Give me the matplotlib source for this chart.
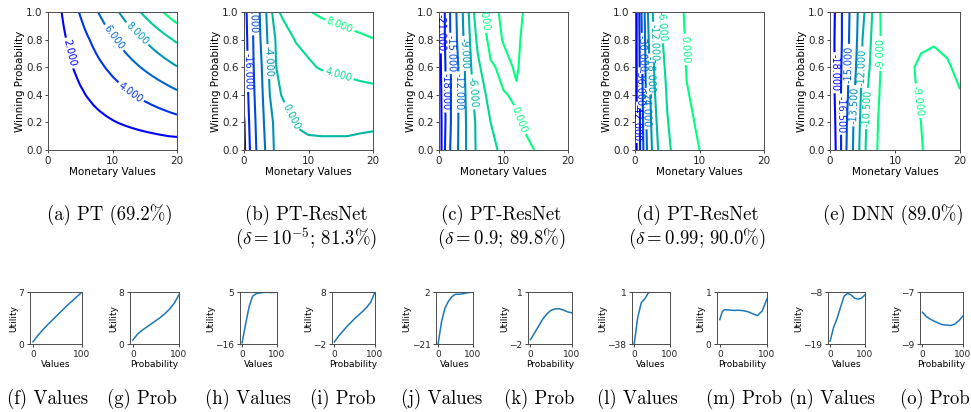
import matplotlib
matplotlib.use('Agg')
import matplotlib.pyplot as plt
import numpy as np

plt.rcParams['mathtext.fontset'] = 'cm'

W, H = 971, 412

# ---- PT surface: value function times probability weighting ----
pt_money = list(range(21))
pt_value = [0, 1.07, 1.92, 2.70, 3.44, 4.14, 4.83, 5.50, 6.15, 6.78, 7.41,
            8.02, 8.63, 9.22, 9.81, 10.39, 10.96, 11.53, 12.09, 12.65, 13.20]
pt_prob = [0, 0.1, 0.2, 0.3, 0.4, 0.5, 0.6, 0.7, 0.8, 0.9, 1.0]
pt_weight = [0, 0.16, 0.255, 0.34, 0.425, 0.51, 0.60, 0.69, 0.78, 0.89, 1.0]
pt_levels = [2, 4, 6, 8, 10, 12]

# ---- learned surfaces on a coarse (money, probability) grid ----
money = [0, 0.5, 1, 1.5, 2, 3, 4, 5, 6, 8, 10, 12, 14, 16, 18, 20]
prob = [0, 0.2, 0.4, 0.6, 0.8, 1.0]

# PT-ResNet, delta = 1e-5 (rows follow prob)
resnet_a = [
    [-21.0, -18.1, -15.6, -13.4, -11.7, -8.9, -5.7, -3.0, -2.0, -1.0, -0.6, -0.6, -0.6, -0.7, -1.2, -2.1],
    [-20.5, -17.3, -15.1, -12.8, -11.4, -8.3, -5.0, -3.0, -1.8, 0.2, 0.5, 0.6, 0.6, 0.7, 0.8, 1.0],
    [-18.5, -16.6, -14.7, -12.4, -10.9, -7.7, -4.0, -0.9, 0.3, 0.9, 1.4, 1.8, 2.2, 2.5, 2.8, 3.0],
    [-18.0, -16.3, -14.2, -12.0, -10.5, -7.2, -3.3, 0.0, 0.7, 2.2, 3.6, 4.24, 4.55, 4.87, 5.2, 5.5],
    [-18.0, -16.0, -13.8, -11.7, -10.0, -6.4, -2.5, 0.4, 1.9, 4.2, 4.8, 5.4, 6.0, 6.6, 7.2, 7.85],
    [-18.0, -15.5, -13.3, -11.3, -9.7, -5.8, -1.8, 3.3, 4.7, 6.3, 7.8, 8.7, 9.4, 10.0, 10.5, 11.0],
]
levels_a = [-20, -16, -12, -8, -4, 0, 4, 8]

# PT-ResNet, delta = 0.9
resnet_b = [
    [-24.0, -20.2, -17.6, -15.7, -14.2, -11.9, -9.5, -7.0, -5.5, -3.7, -2.4, -1.3, -0.3, 0.5, 0.9, 1.2],
    [-23.5, -20.3, -18.0, -16.1, -14.5, -12.0, -9.5, -6.8, -5.5, -3.0, -1.6, -0.2, 0.6, 1.0, 1.2, 1.4],
    [-23.0, -20.2, -18.0, -16.1, -14.5, -12.0, -9.3, -6.5, -4.7, -2.0, -0.1, 0.2, 1.3, 1.6, 1.8, 2.0],
    [-22.5, -20.0, -18.0, -16.1, -14.5, -12.0, -9.0, -6.0, -3.7, -0.3, 0.5, -0.2, 1.0, 1.4, 1.6, 1.8],
    [-22.2, -19.8, -17.6, -15.8, -14.2, -11.4, -8.4, -5.4, -2.3, 0.8, -0.1, -0.4, 0.9, 1.2, 1.4, 1.6],
    [-22.0, -19.5, -17.6, -15.7, -14.1, -11.1, -8.0, -4.7, -0.6, 1.0, -0.6, -0.6, 0.6, 1.0, 1.3, 1.5],
]
levels_b = [-21, -18, -15, -12, -9, -6, -3, 0]

# PT-ResNet, delta = 0.99 (three probability rows are enough)
prob_c = [0, 0.5, 1.0]
resnet_c = [
    [-45, -39.3, -33.6, -27.6, -22.5, -15.3, -9.7, -7.0, -5.2, -2.4, 0.0, 0.8, 1.2, 1.5, 1.7, 1.9],
    [-45, -39.2, -32.3, -25.4, -20.8, -12.0, -8.3, -5.2, -3.8, 0.0, 0.8, 1.2, 1.5, 1.8, 2.0, 2.2],
    [-45, -39.0, -30.0, -24.0, -18.0, -10.3, -6.0, -4.0, -2.0, 0.6, 1.2, 1.6, 1.9, 2.1, 2.3, 2.5],
]
levels_c = [-42, -36, -30, -24, -18, -12, -6, 0]

# DNN
dnn = [
    [-19, -18.6, -17.8, -17.0, -15.8, -14.3, -12.8, -11.2, -9.7, -8.6, -8.5, -8.7, -8.95, -9.3, -9.3, -9.3],
    [-19, -18.5, -17.7, -16.9, -15.9, -14.4, -12.9, -11.4, -9.9, -8.6, -8.5, -8.7, -9.0, -9.3, -9.3, -9.2],
    [-19, -18.3, -17.6, -16.8, -16.0, -14.7, -13.2, -11.6, -10.2, -8.7, -8.6, -8.8, -9.1, -9.3, -9.2, -9.05],
    [-19, -18.3, -17.5, -16.8, -16.2, -14.8, -13.5, -11.9, -10.6, -8.8, -8.6, -8.8, -9.2, -9.3, -9.1, -8.8],
    [-19, -18.3, -17.5, -16.9, -16.3, -14.9, -13.8, -12.0, -10.8, -8.8, -8.4, -8.5, -8.8, -8.9, -8.8, -8.7],
    [-19, -18.4, -17.6, -16.9, -16.3, -15.0, -13.9, -12.4, -11.1, -8.7, -8.3, -8.3, -8.5, -8.6, -8.6, -8.6],
]
levels_dnn = [-18, -16.5, -15, -13.5, -12, -10.5, -9]

# where the contour labels sit, in (money, probability)
spots_pt = [(3.1, 0.70), (12.7, 0.41), (10.1, 0.81), (14.0, 0.85)]
spots_a = [(0.8, 0.57), (1.4, 0.98), (3.4, 0.64), (7.2, 0.24), (14.4, 0.5), (14.9, 0.91)]
spots_b = [(0.3, 0.85), (0.8, 0.42), (1.8, 0.7), (3.0, 0.42), (4.0, 0.7),
           (5.1, 0.42), (6.7, 0.96), (12.6, 0.22)]
spots_c = [(0.26, 0.2), (0.75, 0.45), (1.1, 0.7), (1.7, 0.3), (2.4, 0.55),
           (3.0, 0.78), (4.4, 0.9), (8.1, 0.73)]
spots_dnn = [(1.0, 0.56), (2.0, 0.26), (2.9, 0.62), (4.0, 0.32), (5.2, 0.6),
             (6.3, 0.3), (7.3, 0.7), (13.9, 0.36)]

# ---- 1-D utility curves ----
grid_x = [0, 10, 20, 30, 40, 50, 60, 70, 80, 90, 100]
f_util = [0.3, 1.15, 1.9, 2.6, 3.25, 3.9, 4.55, 5.2, 5.8, 6.4, 7.0]
g_util = [0.6, 1.5, 2.1, 2.6, 3.1, 3.6, 4.1, 4.7, 5.4, 6.3, 7.6]
h_util = [-15.5, -8.0, -1.0, 3.3, 4.3, 4.6, 4.8, 4.9, 4.8, 4.8, 4.9]
i_util = [-1.6, -0.5, 0.4, 1.3, 2.1, 2.9, 3.6, 4.3, 5.1, 6.1, 8.0]
j_util = [-21, -11, -5, -2, 0, 1.0, 1.0, 1.2, 1.5, 1.8, 2.0]
k_util = [-1.75, -1.35, -0.95, -0.55, -0.25, -0.05, 0.03, 0.03, -0.05, -0.15, -0.2]
l_util = [-38, -18, -7, -4, 0.5, 1, 1, 1, 1, 1, 1]
m_x = [0, 5, 10, 20, 30, 40, 50, 60, 70, 80, 90, 100]
m_util = [0.47, 0.62, 0.66, 0.655, 0.645, 0.65, 0.64, 0.62, 0.58, 0.545, 0.64, 0.87]
n_util = [-18.4, -15.5, -13.6, -11.2, -8.9, -8.3, -8.6, -9.3, -9.5, -9.3, -8.6]
o_util = [-7.78, -7.95, -8.05, -8.13, -8.2, -8.26, -8.27, -8.29, -8.23, -8.1, -7.92]

fig = plt.figure(figsize=(W / 100, H / 100), dpi=100)


def px_axes(left, top, right, bottom):
    return fig.add_axes([left / W, 1 - bottom / H, (right - left) / W, (bottom - top) / H])


def style_spines(ax):
    for s in ax.spines.values():
        s.set_color('0.3')
        s.set_linewidth(0.7)
    ax.tick_params(colors='0.15', width=0.6, length=2.5, pad=1.5)


def surface(ax, x, p, z, levels, spots):
    cs = ax.contour(x, p, z, levels=levels, cmap='winter', linewidths=1.5)
    ax.clabel(cs, fmt='%1.3f', fontsize=7, inline=True, inline_spacing=2, manual=spots)
    ax.set_xlim(0, 20)
    ax.set_ylim(0, 1)
    ax.set_xticks([0, 10, 20])
    ax.set_yticks([0, 0.2, 0.4, 0.6, 0.8, 1.0])
    ax.tick_params(labelsize=7.5)
    ax.set_xlabel('Monetary Values', fontsize=7.5, labelpad=1)
    ax.set_ylabel('Winning Probability', fontsize=7.5, labelpad=1)
    style_spines(ax)


top = [(48, 177), (244, 373), (439, 568), (635, 764), (830, 960)]
axs = [px_axes(l, 12, r, 150) for l, r in top]

surface(axs[0], pt_money, pt_prob, np.outer(pt_weight, pt_value), pt_levels, spots_pt)
surface(axs[1], money, prob, resnet_a, levels_a, spots_a)
surface(axs[2], money, prob, resnet_b, levels_b, spots_b)
surface(axs[3], money, prob_c, resnet_c, levels_c, spots_c)
surface(axs[4], money, prob, dnn, levels_dnn, spots_dnn)

cap = dict(family='cmr10', fontsize=13.5, ha='center', va='center')
fig.text(110 / W, 1 - 215 / H, '(a) PT (69.2%)', **cap)
fig.text(306 / W, 1 - 215 / H, '(b) PT-ResNet', **cap)
fig.text(306 / W, 1 - 239 / H, r'($\delta = 10^{-5}$; 81.3%)', **cap)
fig.text(501 / W, 1 - 215 / H, '(c) PT-ResNet', **cap)
fig.text(501 / W, 1 - 239 / H, r'($\delta = 0.9$; 89.8%)', **cap)
fig.text(697 / W, 1 - 215 / H, '(d) PT-ResNet', **cap)
fig.text(697 / W, 1 - 239 / H, r'($\delta = 0.99$; 90.0%)', **cap)
fig.text(893 / W, 1 - 215 / H, '(e) DNN (89.0%)', **cap)


def curve(ax, x, y, lo, hi, xlabel):
    ax.plot(x, y, color='#1f77b4', lw=1.1)
    ax.set_xlim(-6, 100)
    ax.set_ylim(lo, hi)
    ax.set_xticks([0, 100])
    ax.set_yticks([lo, hi])
    ax.tick_params(labelsize=6.5)
    ax.set_xlabel(xlabel, fontsize=6.5, labelpad=1)
    ax.set_ylabel('Utility', fontsize=6.5, labelpad=0)
    style_spines(ax)


bottom = [(30, 82), (130, 179), (240, 277), (332, 375), (436, 473),
          (528, 572), (632, 670), (717, 767), (828, 865), (920, 963)]
bx = [px_axes(l, 292, r, 344) for l, r in bottom]

curve(bx[0], grid_x, f_util, 0, 7, 'Values')
curve(bx[1], grid_x, g_util, 0, 8, 'Probability')
curve(bx[2], grid_x, h_util, -16, 5, 'Values')
curve(bx[3], grid_x, i_util, -2, 8, 'Probability')
curve(bx[4], grid_x, j_util, -21, 2, 'Values')
curve(bx[5], grid_x, k_util, -2, 1, 'Probability')
curve(bx[6], grid_x, l_util, -38, 1, 'Values')
curve(bx[7], m_x, m_util, 0, 1, 'Probability')
curve(bx[8], grid_x, n_util, -19, -8, 'Values')
curve(bx[9], grid_x, o_util, -9, -7, 'Probability')

captions = ['(f) Values', '(g) Prob', '(h) Values', '(i) Prob', '(j) Values',
            '(k) Prob', '(l) Values', '(m) Prob', '(n) Values', '(o) Prob']
centers = [48, 142, 248, 343, 442, 539, 637, 744, 832, 935]
for c, t in zip(centers, captions):
    fig.text(c / W, 1 - 399 / H, t, **cap)

fig.savefig('out.png', dpi=100)
